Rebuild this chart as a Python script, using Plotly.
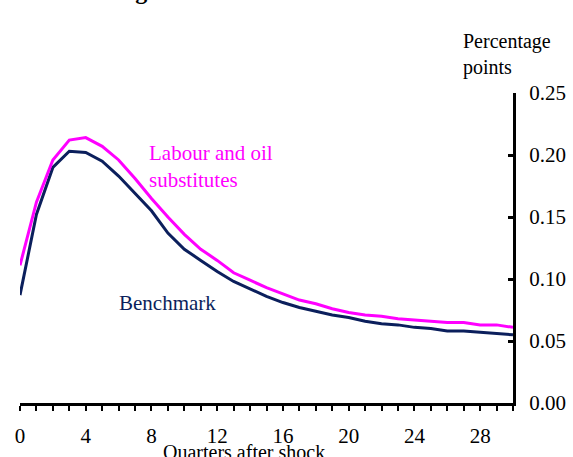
import plotly.graph_objects as go

# Quarters after the shock
quarters = list(range(31))

# Response of real marginal cost, percentage points
benchmark = [0.087, 0.152, 0.190, 0.203, 0.202, 0.195, 0.183, 0.169, 0.155, 0.137,
             0.124, 0.115, 0.106, 0.098, 0.092, 0.086, 0.081, 0.077, 0.074, 0.071,
             0.069, 0.066, 0.064, 0.063, 0.061, 0.060, 0.058, 0.058, 0.057, 0.056,
             0.055]
labour_oil = [0.111, 0.162, 0.196, 0.212, 0.214, 0.207, 0.196, 0.181, 0.165, 0.150,
              0.136, 0.124, 0.115, 0.105, 0.099, 0.093, 0.088, 0.083, 0.080, 0.076,
              0.073, 0.071, 0.070, 0.068, 0.067, 0.066, 0.065, 0.065, 0.063, 0.063,
              0.061]

x_ticks = [0, 4, 8, 12, 16, 20, 24, 28]
y_ticks = [0.00, 0.05, 0.10, 0.15, 0.20, 0.25]

NAVY = "#0b1f5c"
MAGENTA = "#ff00ff"
FONT = "Liberation Serif"

fig = go.Figure()
fig.add_trace(go.Scatter(x=quarters, y=benchmark, mode="lines",
                         line=dict(color=NAVY, width=3), showlegend=False))
fig.add_trace(go.Scatter(x=quarters, y=labour_oil, mode="lines",
                         line=dict(color=MAGENTA, width=3), showlegend=False))

fig.update_layout(
    width=573, height=457,
    margin=dict(l=20, r=60, t=93, b=54),
    paper_bgcolor="white", plot_bgcolor="white",
    font=dict(family=FONT, size=21, color="black"),
    xaxis=dict(
        range=[0, 30], tickvals=x_ticks, ticktext=[str(v) for v in x_ticks],
        automargin=False, showgrid=False, zeroline=False,
        showline=True, linecolor="black", linewidth=3,
        ticks="outside", ticklen=5, tickwidth=2, tickcolor="black",
        ticklabelstandoff=7,
        minor=dict(dtick=1, ticks="outside", ticklen=5, tickwidth=2, tickcolor="black"),
    ),
    yaxis=dict(
        range=[0, 0.25], tickvals=y_ticks, ticktext=[f"{v:.2f}" for v in y_ticks],
        side="right", automargin=False, showgrid=False, zeroline=False,
        showline=True, linecolor="black", linewidth=3,
        ticks="inside", ticklen=5, tickwidth=3, tickcolor="black",
        ticklabelstandoff=9,
    ),
    annotations=[
        dict(text="<b>Real marginal cost</b>", xref="paper", yref="paper", x=0.0365, y=1,
             xanchor="left", yanchor="bottom", yshift=87, showarrow=False,
             font=dict(family=FONT, size=24, color="black")),
        dict(text="Percentage<br>points", xref="paper", yref="paper", x=0.8945, y=1,
             xanchor="left", yanchor="bottom", yshift=12, align="left", showarrow=False,
             font=dict(family=FONT, size=20, color="black")),
        dict(text="Labour and oil<br>substitutes", xref="x", yref="y", x=7.7, y=0.191,
             xanchor="left", yanchor="middle", align="left", showarrow=False,
             font=dict(family=FONT, size=21, color=MAGENTA)),
        dict(text="Benchmark", xref="x", yref="y", x=5.9, y=0.081,
             xanchor="left", yanchor="middle", showarrow=False,
             font=dict(family=FONT, size=21, color=NAVY)),
        dict(text="Quarters after shock", xref="paper", yref="paper", x=0.454, y=0,
             xanchor="center", yanchor="top", yshift=-36, showarrow=False,
             font=dict(family=FONT, size=20, color="black")),
    ],
)

fig.write_html("out.html")
